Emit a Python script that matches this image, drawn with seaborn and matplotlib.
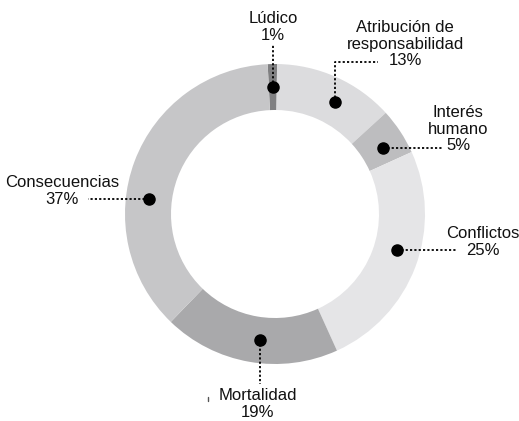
import numpy as np
import matplotlib
matplotlib.use("Agg")
import matplotlib.pyplot as plt
import seaborn as sns

sns.set_style("white")
plt.rcParams['font.family'] = ['Liberation Sans', 'DejaVu Sans']

# datos
categorias = ["Lúdico", "Atribución de\nresponsabilidad", "Interés\nhumano",
              "Conflictos", "Mortalidad", "Consecuencias"]
porcentajes = [1, 13, 5, 25, 19, 37]
colores = ["#808082", "#dcdcde", "#bdbdbf", "#e5e5e7", "#a9a9ab", "#c6c6c8"]

# layout (pixeles, y hacia arriba)
W, H = 519, 421
cx, cy = 275, H - 214
R = 150
ancho = 46
r_punto = R - ancho / 2
ajuste_ang = [0, -4, -2, 4, 3, 14]          # desplazamiento del punto sobre la cuña
# para cada etiqueta: codo de la linea (x, y) y posicion del texto
codos = [(None, 376), (378, 359), (443, None), (457, None), (None, 37), (88, None)]
textos = [(273, 394), (405, 377), (458, 292), (483, 179), (258, 17), (62, 230)]

fig = plt.figure(figsize=(W / 100, H / 100), dpi=100)
ax = fig.add_axes([0, 0, 1, 1])
ax.set_xlim(0, W)
ax.set_ylim(0, H)
ax.set_aspect("equal")
ax.axis("off")

wedges, _ = ax.pie(porcentajes, colors=colores, startangle=92.8, counterclock=False,
                   center=(cx, cy), radius=R,
                   wedgeprops=dict(width=ancho, linewidth=0))
ax.set_xlim(0, W)
ax.set_ylim(0, H)

for w, cat, pct, da, codo, txt in zip(wedges, categorias, porcentajes, ajuste_ang, codos, textos):
    ang = np.deg2rad((w.theta1 + w.theta2) / 2 + da)
    px = cx + r_punto * np.cos(ang)
    py = cy + r_punto * np.sin(ang)
    # linea punteada: vertical y luego horizontal
    xs, ys = [px], [py]
    if codo[1] is not None:
        xs.append(px)
        ys.append(codo[1])
        if codo[0] is not None:
            xs.append(codo[0])
            ys.append(codo[1])
    else:
        xs.append(codo[0])
        ys.append(py)
    ax.plot(xs, ys, color="black", linestyle=(0, (1.2, 1.2)), linewidth=1.3, zorder=3)
    ax.plot(px, py, "o", color="black", markersize=8, zorder=4)
    ax.text(txt[0], txt[1], f"{cat}\n{pct}%", ha="center", va="center",
            fontsize=12, linespacing=1.15, color="#111111")

# pequeña marca junto a Mortalidad
ax.plot([208, 208], [H - 397, H - 401], color="#555555", linewidth=1)

fig.savefig("out.png", dpi=100)
